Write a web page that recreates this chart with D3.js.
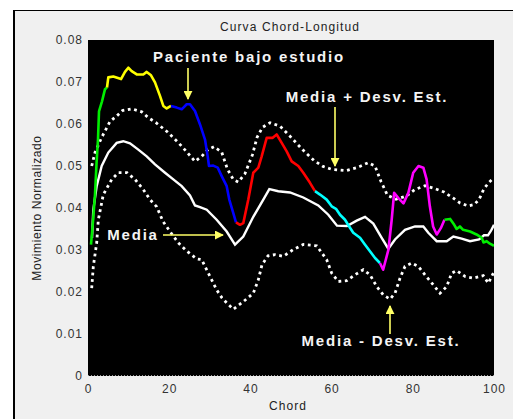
<!DOCTYPE html>
<html>
<head>
<meta charset="utf-8">
<script src="https://cdn.jsdelivr.net/npm/d3@7"></script>
<style>
  body { margin: 0; background: #fff; }
  text { font-family: "Liberation Sans", Arial, sans-serif; }
</style>
</head>
<body>
<div id="chart"></div>
<script>
// ticks
let xTicks = [0, 20, 40, 60, 80, 100];
let yTicks = [0, 0.01, 0.02, 0.03, 0.04, 0.05, 0.06, 0.07, 0.08];

// media (white solid)
let meanX = [0.99, 1.31, 2.14, 3.37, 5.0, 7.07, 8.69, 10.34, 12.39, 14.46, 16.5, 18.97, 21.01, 23.08, 25.12, 26.35, 27.59, 29.24, 31.69, 34.16, 36.21, 38.25, 40.71, 43.18, 44.66, 46.87, 49.75, 53.03, 56.72, 59.19, 61.33, 63.79, 66.18, 68.23, 70.27, 72.34, 73.97, 75.62, 78.08, 80.54, 82.59, 83.82, 85.89, 88.35, 89.98, 92.04, 94.09, 96.31, 97.54, 98.52, 99.26, 100];
let meanY = [0.0329, 0.0396, 0.0452, 0.0500, 0.0532, 0.0555, 0.0559, 0.0554, 0.0539, 0.0523, 0.0504, 0.0484, 0.0468, 0.0452, 0.0430, 0.0406, 0.0402, 0.0396, 0.0372, 0.0344, 0.0313, 0.0332, 0.0379, 0.0420, 0.0445, 0.0440, 0.0437, 0.0425, 0.0406, 0.0384, 0.0358, 0.0357, 0.0370, 0.0379, 0.0363, 0.0329, 0.0303, 0.0325, 0.0348, 0.0356, 0.0356, 0.0341, 0.0321, 0.0321, 0.0332, 0.0327, 0.0321, 0.0325, 0.0335, 0.0335, 0.0346, 0.0360];

// media + desv. est. (dotted)
let upperX = [0.91, 1.72, 3.37, 5.42, 7.07, 8.5, 10.84, 13.23, 14.85, 16.75, 19.58, 22.41, 24.38, 26.35, 28.0, 29.56, 31.03, 32.93, 34.36, 35.79, 37.02, 38.67, 40.52, 41.63, 42.98, 44.83, 47.29, 49.75, 52.83, 55.67, 57.88, 60.1, 63.55, 66.26, 69.04, 70.69, 72.17, 73.77, 75.86, 78.33, 80.54, 83.0, 85.47, 87.68, 89.9, 91.63, 93.6, 95.07, 96.31, 97.54, 98.77, 100];
let upperY = [0.0500, 0.0532, 0.0568, 0.0606, 0.0619, 0.0632, 0.0636, 0.0629, 0.0615, 0.0603, 0.0581, 0.0554, 0.0533, 0.0511, 0.0523, 0.0539, 0.0546, 0.0533, 0.0492, 0.0468, 0.0462, 0.0482, 0.0527, 0.0568, 0.0592, 0.0603, 0.0595, 0.0571, 0.0539, 0.0513, 0.0499, 0.0492, 0.0489, 0.0496, 0.0508, 0.0500, 0.0463, 0.0430, 0.0421, 0.0428, 0.0444, 0.0453, 0.0446, 0.0438, 0.0424, 0.0412, 0.0405, 0.0408, 0.0420, 0.0446, 0.0461, 0.0472];

// media - desv. est. (dotted)
let lowerX = [0.91, 1.31, 2.14, 2.54, 3.77, 5.84, 7.46, 9.61, 11.58, 13.62, 15.27, 16.92, 18.47, 20.2, 22.24, 24.38, 26.77, 28.0, 29.63, 31.7, 33.0, 34.16, 35.79, 38.25, 40.71, 41.95, 42.86, 44.33, 46.06, 48.1, 50.57, 53.03, 56.33, 58.79, 60.02, 61.65, 63.72, 65.76, 67.81, 69.46, 71.11, 72.73, 74.38, 75.62, 76.85, 78.08, 79.73, 81.35, 83.0, 85.05, 86.7, 88.35, 89.58, 90.81, 92.86, 94.9, 97.36, 98.6, 99.85];
let lowerY = [0.0209, 0.0261, 0.0317, 0.0372, 0.0432, 0.0468, 0.0484, 0.0484, 0.0468, 0.0444, 0.0420, 0.0403, 0.0368, 0.0344, 0.0317, 0.0297, 0.0279, 0.0277, 0.0245, 0.0205, 0.0186, 0.0174, 0.0159, 0.0177, 0.0197, 0.0229, 0.0265, 0.0286, 0.0289, 0.0285, 0.0301, 0.0313, 0.0310, 0.0277, 0.0245, 0.0225, 0.0227, 0.0241, 0.0253, 0.0241, 0.0213, 0.0193, 0.0183, 0.0197, 0.0233, 0.0261, 0.0269, 0.0261, 0.0241, 0.0217, 0.0197, 0.0213, 0.0245, 0.0251, 0.0237, 0.0233, 0.0239, 0.0221, 0.0245];

// paciente bajo estudio (multicolour)
let patientX = [0.74, 1.23, 1.72, 2.09, 2.46, 2.71, 3.45, 4.19, 4.68, 5.0, 6.23, 8.13, 9.11, 9.93, 10.76, 12.0, 13.62, 14.46, 15.52, 16.5, 17.73, 18.55, 19.38, 20.44, 21.85, 23.08, 24.31, 25.12, 26.35, 27.59, 28.82, 29.48, 29.8, 30.86, 31.95, 32.93, 34.16, 34.8, 35.79, 36.45, 37.44, 38.25, 39.48, 40.71, 41.95, 42.78, 44.01, 45.49, 46.48, 47.71, 48.94, 50.17, 51.8, 53.03, 54.68, 55.91, 57.14, 58.79, 60.02, 61.08, 62.07, 63.3, 64.53, 65.34, 67.0, 68.2, 70.7, 71.9, 72.7, 74.0, 74.8, 75.4, 76.4, 77.7, 78.9, 80.1, 81.4, 82.6, 83.4, 84.2, 85.0, 85.9, 86.9, 87.8, 89.2, 90.2, 90.8, 91.6, 92.4, 94.1, 95.7, 97.0, 97.4, 98.2, 99.0, 100];
let patientY = [0.0313, 0.0368, 0.0432, 0.0504, 0.0563, 0.0630, 0.0654, 0.0683, 0.0687, 0.0711, 0.0713, 0.0707, 0.0724, 0.0734, 0.0726, 0.0718, 0.0718, 0.0724, 0.0716, 0.0699, 0.0667, 0.0643, 0.0637, 0.0643, 0.0639, 0.0635, 0.0647, 0.0647, 0.0631, 0.0599, 0.0563, 0.0523, 0.0500, 0.0501, 0.0496, 0.0476, 0.0452, 0.0420, 0.0388, 0.0366, 0.0360, 0.0364, 0.0420, 0.0484, 0.0496, 0.0523, 0.0567, 0.0567, 0.0575, 0.0555, 0.0535, 0.0511, 0.0500, 0.0484, 0.0460, 0.0440, 0.0432, 0.0420, 0.0404, 0.0398, 0.0384, 0.0372, 0.0353, 0.0341, 0.0329, 0.0313, 0.0281, 0.0269, 0.0253, 0.0301, 0.0372, 0.0436, 0.0424, 0.0411, 0.0436, 0.0484, 0.0500, 0.0496, 0.0468, 0.0404, 0.0356, 0.0337, 0.0352, 0.0372, 0.0374, 0.0360, 0.0350, 0.0356, 0.0348, 0.0344, 0.0337, 0.0329, 0.0318, 0.0321, 0.0315, 0.0310];
let segmentBreaks = [0, 4.68, 20.44, 36.45, 55.91, 71.9, 87.8, 100];
let segmentColors = ["#00ee00", "#ffff00", "#0000ff", "#ff0000", "#00ffff", "#ff00ff", "#00ee00"];

// annotations
let labels = [
	{ text: "Paciente bajo estudio", x: 249, y: 62 },
	{ text: "Media + Desv. Est.", x: 367, y: 102 },
	{ text: "Media", x: 133, y: 240 },
	{ text: "Media - Desv. Est.", x: 381, y: 346 }
];
let arrows = [
	{ x1: 188, y1: 68, x2: 188, y2: 99 },
	{ x1: 335, y1: 107, x2: 335, y2: 166 },
	{ x1: 163, y1: 235, x2: 223, y2: 235 },
	{ x1: 390, y1: 334, x2: 390, y2: 306 }
];

let W = 513, H = 419;
let margin = { top: 40, right: 19, bottom: 43, left: 88 },
	width = W - margin.left - margin.right,
	height = H - margin.top - margin.bottom;

let svg = d3.select("#chart")
	.append("svg")
	.attr("width", W)
	.attr("height", H);

// figure background + frame
svg.append("rect").attr("x", 13).attr("y", 10).attr("width", W - 13).attr("height", H - 10)
	.attr("fill", "#f0f0f0");
svg.append("line").attr("x1", 14).attr("y1", 10).attr("x2", 14).attr("y2", H)
	.attr("stroke", "#000").attr("stroke-width", 2);
svg.append("line").attr("x1", 13).attr("y1", 10.5).attr("x2", W).attr("y2", 10.5)
	.attr("stroke", "#000").attr("stroke-width", 1);

let g = svg.append("g")
	.attr("transform", "translate(" + margin.left + "," + margin.top + ")");

let x = d3.scaleLinear().domain([0, 100]).range([0, width]);
let y = d3.scaleLinear().domain([0, 0.08]).range([height, 0]);

g.append("rect").attr("width", width).attr("height", height).attr("fill", "#000");

// bottom axis dotted edge
g.append("line").attr("x1", 0).attr("x2", width).attr("y1", height - 0.5).attr("y2", height - 0.5)
	.attr("stroke", "#999").attr("stroke-dasharray", "1,2");

// axes
let xAxis = g.append("g")
	.attr("transform", "translate(0," + height + ")")
	.call(d3.axisBottom(x).tickValues(xTicks).tickSize(0).tickPadding(8).tickFormat(d3.format("d")));
let yAxis = g.append("g")
	.call(d3.axisLeft(y).tickValues(yTicks).tickSize(0).tickPadding(6)
		.tickFormat(function (d) { return d === 0 ? "0" : d3.format(".2f")(d); }));
[xAxis, yAxis].forEach(function (a) {
	a.select(".domain").remove();
	a.selectAll("text").style("font-size", "12px").style("letter-spacing", "1px").attr("fill", "#333")
		.style("font-family", "'Liberation Sans', Arial, sans-serif");
});
yAxis.selectAll("text").attr("dx", "1px");

// titles
function small(t) {
	return t.style("font-size", "12px").style("letter-spacing", "1.1px").attr("fill", "#222");
}
small(svg.append("text").attr("x", 290).attr("y", 31).attr("text-anchor", "middle").text("Curva Chord-Longitud"));
small(svg.append("text").attr("x", 288).attr("y", 410).attr("text-anchor", "middle").text("Chord"));
small(svg.append("text").attr("transform", "translate(41,208) rotate(-90)").attr("text-anchor", "middle")
	.text("Movimiento Normalizado")).style("letter-spacing", "0.6px");

// lines
let line = d3.line()
	.x(function (d) { return x(d[0]); })
	.y(function (d) { return y(d[1]); });

function pairs(xs, ys) {
	return xs.map(function (v, i) { return [v, ys[i]]; });
}

let clip = g.append("defs").append("clipPath").attr("id", "plotclip");
clip.append("rect").attr("width", width).attr("height", height);
let lines = g.append("g").attr("clip-path", "url(#plotclip)");

[pairs(upperX, upperY), pairs(lowerX, lowerY)].forEach(function (d) {
	lines.append("path").datum(d).attr("d", line)
		.attr("fill", "none").attr("stroke", "#fff")
		.attr("stroke-width", 2.8).attr("stroke-dasharray", "2.8,3.6");
});

lines.append("path").datum(pairs(meanX, meanY)).attr("d", line)
	.attr("fill", "none").attr("stroke", "#fff").attr("stroke-width", 2.4);

let patient = pairs(patientX, patientY);
segmentColors.forEach(function (c, i) {
	let seg = patient.filter(function (p) {
		return p[0] >= segmentBreaks[i] && p[0] <= segmentBreaks[i + 1];
	});
	lines.append("path").datum(seg).attr("d", line)
		.attr("fill", "none").attr("stroke", c)
		.attr("stroke-width", 2.6).attr("stroke-linejoin", "round");
});

// annotations
let defs = svg.append("defs");
defs.append("marker").attr("id", "head")
	.attr("viewBox", "0 0 10 10").attr("refX", 9).attr("refY", 5)
	.attr("markerWidth", 9).attr("markerHeight", 9).attr("markerUnits", "userSpaceOnUse")
	.attr("orient", "auto")
	.append("path").attr("d", "M0,0 L10,5 L0,10 Z").attr("fill", "#ffff66");

arrows.forEach(function (a) {
	svg.append("line")
		.attr("x1", a.x1).attr("y1", a.y1).attr("x2", a.x2).attr("y2", a.y2)
		.attr("stroke", "#ffff66").attr("stroke-width", 1.6)
		.attr("marker-end", "url(#head)");
});

labels.forEach(function (l) {
	svg.append("text").attr("x", l.x).attr("y", l.y).attr("text-anchor", "middle")
		.style("font-size", "15px").style("font-weight", "bold").style("letter-spacing", "1.8px")
		.attr("fill", "#f4f4f4").text(l.text);
});
</script>
</body>
</html>
